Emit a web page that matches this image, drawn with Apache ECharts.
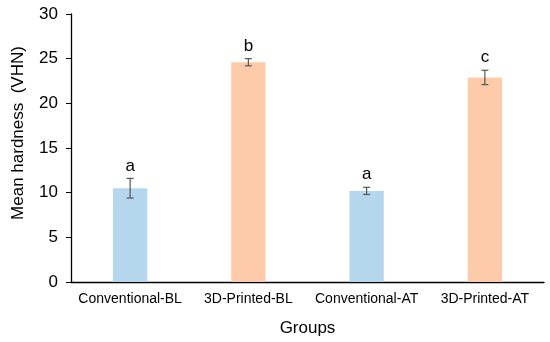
<!DOCTYPE html>
<html><head><meta charset="utf-8">
<script src="https://cdn.jsdelivr.net/npm/echarts@6/dist/echarts.min.js"></script>
<style>html,body{margin:0;padding:0;background:#fff}#c{width:550px;height:342px}</style>
</head><body><div id="c"></div>
<script>
const categories = ['Conventional-BL', '3D-Printed-BL', 'Conventional-AT', '3D-Printed-AT'];
const meanValues = [10.5, 24.6, 10.2, 22.9];
const errorValues = [1.1, 0.4, 0.4, 0.8];
const letters = ['a', 'b', 'a', 'c'];
const barColors = ['#B4D7EE', '#FDCBA9', '#B4D7EE', '#FDCBA9'];

const chart = echarts.init(document.getElementById('c'));
const errData = categories.map((c, i) => [i, meanValues[i] - errorValues[i], meanValues[i] + errorValues[i], letters[i]]);
chart.setOption({
  animation: false,
  grid: { left: 71, top: 14, right: 6, bottom: 60 },
  xAxis: {
    type: 'category', data: categories,
    name: 'Groups', nameLocation: 'middle', nameGap: 38,
    nameTextStyle: { fontFamily: 'Liberation Sans', fontSize: 17, color: '#000' },
    axisLine: { lineStyle: { color: '#000', width: 1.3 } },
    axisTick: { show: false },
    axisLabel: { interval: 0, fontFamily: 'Liberation Sans', fontSize: 14, color: '#000', margin: 10 }
  },
  yAxis: {
    type: 'value', min: 0, max: 30, interval: 5,
    name: 'Mean hardness  (VHN)', nameLocation: 'middle', nameGap: 44,
    nameTextStyle: { fontFamily: 'Liberation Sans', fontSize: 17, color: '#000', padding: [0, 0, 0, 30] },
    axisLine: { show: true, lineStyle: { color: '#000', width: 1.3 } },
    axisTick: { show: true, length: 5, lineStyle: { color: '#000' } },
    splitLine: { show: false },
    axisLabel: { fontFamily: 'Liberation Sans', fontSize: 17, color: '#000', margin: 13 }
  },
  series: [
    {
      type: 'bar', barWidth: '29%',
      data: meanValues.map((v, i) => ({ value: v, itemStyle: { color: barColors[i] } }))
    },
    {
      type: 'custom', z: 10,
      data: errData,
      renderItem: function (params, api) {
        const x = api.coord([api.value(0), 0])[0];
        const lo = api.coord([api.value(0), api.value(1)])[1];
        const hi = api.coord([api.value(0), api.value(2)])[1];
        const hw = 3.5;
        const st = { stroke: '#555', lineWidth: 1.2 };
        return {
          type: 'group', children: [
            { type: 'line', shape: { x1: x, y1: lo, x2: x, y2: hi }, style: st },
            { type: 'line', shape: { x1: x - hw, y1: lo, x2: x + hw, y2: lo }, style: st },
            { type: 'line', shape: { x1: x - hw, y1: hi, x2: x + hw, y2: hi }, style: st },
            { type: 'text', style: { text: letters[params.dataIndex], x: x, y: hi - 4, textAlign: 'center', textVerticalAlign: 'bottom', fontFamily: 'Liberation Sans', fontSize: 17, fill: '#000' } }
          ]
        };
      }
    }
  ]
});
</script></body></html>
